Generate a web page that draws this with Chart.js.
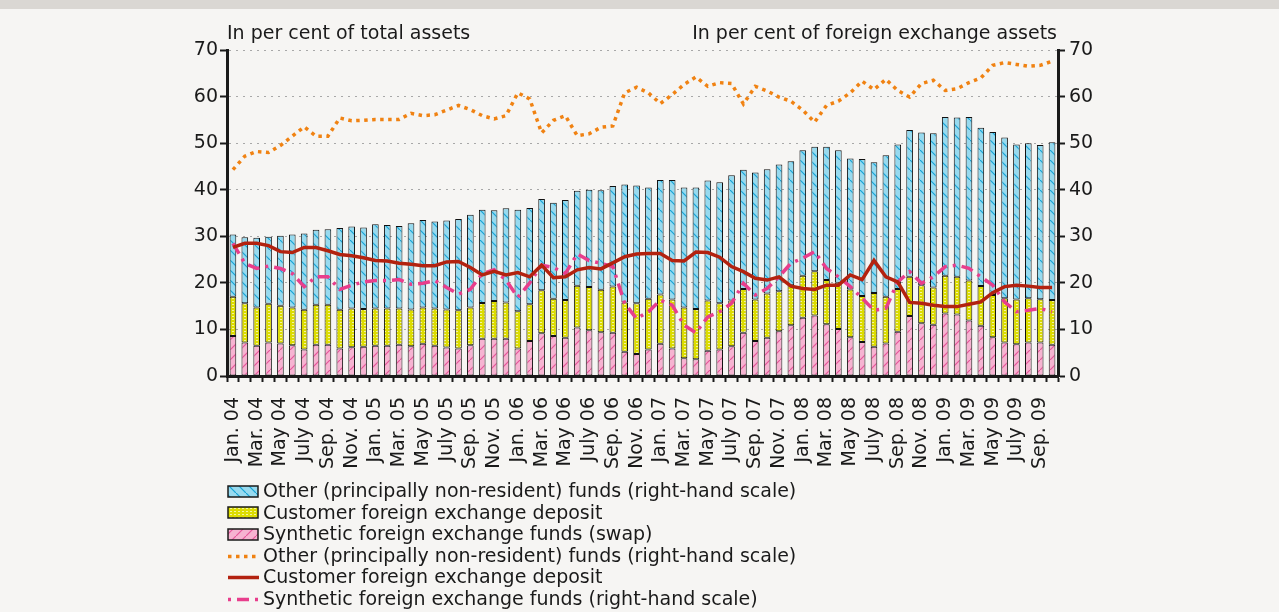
<!DOCTYPE html>
<html>
<head>
<meta charset="utf-8">
<script src="https://cdn.jsdelivr.net/npm/chart.js@4"></script>
<style>
  html, body { margin: 0; padding: 0; background: #f6f5f3; width: 1279px; height: 612px; overflow: hidden; }
  #topband { position: absolute; left: 0; top: 0; width: 1279px; height: 9px; background: #dad7d3; }
  #wrap { position: absolute; left: 0; top: 0; width: 1279px; height: 472px; }
  #legend { position: absolute; left: 226px; top: 480px; font-family: 'DejaVu Sans', sans-serif; font-size: 19px; color: #1a1a1a; }
  #legend div { height: 21.6px; line-height: 21.6px; white-space: nowrap; display: flex; align-items: center; }
  #legend canvas { margin-right: 3px; }
</style>
</head>
<body>
<div id="topband"></div>
<div id="wrap"><canvas id="chart"></canvas></div>
<div id="legend"></div>
<script>
// categories: monthly, Jan. 04 - Oct. 09
const monthNames = ['Jan.', 'Feb.', 'Mar.', 'Apr.', 'May', 'June', 'July', 'Aug.', 'Sep.', 'Oct.', 'Nov.', 'Dec.'];
const years = ['04', '05', '06', '07', '08', '09'];
const months = [];
years.forEach(y => monthNames.forEach(m => months.push(m + ' ' + y)));
months.length = 70;

// bars, in per cent of total assets (left scale)
const swapFunds = [8.6, 7.2, 6.5, 7.2, 7.0, 6.6, 5.7, 6.7, 6.7, 5.9,
    6.2, 6.3, 6.5, 6.5, 6.7, 6.4, 6.9, 6.5, 6.1, 5.9,
    6.6, 8.0, 8.0, 8.0, 5.9, 7.5, 9.2, 8.6, 8.2, 10.4,
    9.8, 9.4, 9.3, 5.2, 4.7, 5.7, 6.9, 5.9, 3.8, 3.6,
    5.4, 5.7, 6.4, 9.3, 7.5, 8.2, 9.6, 10.9, 12.5, 13.0,
    11.1, 10.1, 8.3, 7.3, 6.3, 7.0, 9.5, 12.9, 11.3, 11.0,
    13.4, 13.2, 11.9, 10.8, 8.3, 7.2, 6.8, 7.2, 7.2, 6.7];
const depositFunds = [8.4, 8.4, 8.2, 8.3, 8.1, 8.1, 8.5, 8.6, 8.6, 8.3,
    8.3, 8.1, 8.0, 8.0, 7.8, 7.9, 7.8, 8.0, 8.2, 8.2,
    8.1, 7.7, 8.1, 7.8, 8.0, 7.9, 9.2, 8.0, 8.1, 9.0,
    9.3, 9.1, 9.9, 10.6, 10.9, 10.9, 10.6, 10.5, 10.9, 10.8,
    10.8, 9.9, 9.8, 9.4, 8.9, 9.5, 8.6, 8.6, 9.0, 9.5,
    9.5, 9.9, 10.3, 9.9, 11.5, 10.0, 9.2, 8.4, 8.2, 8.0,
    8.1, 8.1, 8.6, 8.5, 9.1, 9.5, 9.6, 9.5, 9.3, 9.6];
const otherFunds = [13.4, 14.2, 15.0, 14.4, 15.0, 15.7, 16.4, 16.1, 16.2, 17.6,
    17.6, 17.5, 18.1, 17.9, 17.7, 18.5, 18.8, 18.7, 19.1, 19.6,
    19.9, 20.0, 19.5, 20.2, 21.8, 20.7, 19.6, 20.6, 21.5, 20.4,
    20.9, 21.4, 21.6, 25.3, 25.3, 23.9, 24.6, 25.7, 25.8, 26.1,
    25.8, 26.0, 26.9, 25.6, 27.3, 26.7, 27.2, 26.6, 27.0, 26.7,
    28.6, 28.5, 28.1, 29.4, 28.1, 30.4, 31.0, 31.5, 32.8, 33.1,
    34.1, 34.2, 35.1, 34.0, 35.0, 34.5, 33.3, 33.3, 33.1, 33.9];

// lines, in per cent of foreign exchange assets (right scale)
const otherShare = [44.3, 47.2, 48.2, 48.0, 49.5, 51.5, 53.5, 51.5, 51.5, 55.4,
    54.8, 54.9, 55.1, 55.1, 55.1, 56.4, 55.9, 56.1, 57.1, 58.1,
    57.2, 55.9, 55.2, 55.9, 60.8, 59.5, 52.2, 54.9, 55.9, 51.6,
    52.0, 53.4, 53.7, 60.8, 62.0, 60.8, 58.5, 60.4, 62.6, 64.2,
    62.2, 63.0, 62.8, 58.4, 62.2, 61.2, 59.9, 59.0, 57.1, 54.5,
    58.1, 59.0, 60.8, 63.3, 61.5, 63.7, 61.3, 59.9, 62.8, 63.5,
    61.3, 61.7, 63.0, 64.0, 66.7, 67.3, 66.9, 66.5, 66.7, 67.6];
const depositShare = [27.6, 28.5, 28.5, 28.0, 26.7, 26.5, 27.6, 27.6, 26.9, 26.1,
    25.8, 25.4, 24.8, 24.7, 24.2, 24.0, 23.7, 23.7, 24.5, 24.6,
    23.3, 21.7, 22.5, 21.7, 22.2, 21.3, 23.8, 21.1, 21.3, 22.8,
    23.3, 23.0, 24.3, 25.6, 26.2, 26.3, 26.3, 24.8, 24.7, 26.6,
    26.5, 25.5, 23.5, 22.4, 21.0, 20.6, 21.3, 19.3, 18.8, 18.6,
    19.5, 19.5, 21.7, 20.7, 24.8, 21.3, 20.2, 15.8, 15.6, 15.2,
    14.9, 14.9, 15.4, 15.9, 17.9, 19.2, 19.5, 19.3, 19.0, 19.0];
const swapShare = [28.5, 24.2, 23.1, 23.6, 23.1, 22.0, 19.2, 21.3, 21.3, 18.6,
    19.5, 20.2, 20.5, 20.5, 20.7, 19.7, 19.9, 20.5, 19.0, 17.6,
    18.6, 22.0, 22.8, 20.6, 16.9, 20.0, 23.8, 23.3, 22.0, 26.2,
    24.8, 24.2, 23.5, 15.6, 12.3, 13.8, 16.3, 15.2, 10.9, 9.3,
    12.7, 13.8, 15.6, 19.9, 17.4, 18.8, 21.3, 24.2, 25.3, 26.7,
    23.1, 21.3, 19.2, 16.7, 14.1, 14.5, 20.2, 22.4, 19.9, 21.3,
    23.5, 23.8, 23.1, 21.3, 19.5, 15.9, 13.8, 14.1, 14.5, 13.8];

const yTicks = [0, 10, 20, 30, 40, 50, 60, 70];

const FONT = "'DejaVu Sans', sans-serif";
const COL = {
    blue: '#97daef', blueHatch: '#16a3d6',
    yellow: '#dcdc00', yellowHatch: '#f4f4a0',
    pink: '#f6b3d1', pinkHatch: '#e6559a',
    orange: '#f08212', red: '#b3220f', magenta: '#e83e8c',
};

// hatch fills for the bars
function hatch(bg, fg, kind) {
    const c = document.createElement('canvas');
    const g = c.getContext('2d');
    if (kind === 'h') {
        c.width = 4; c.height = 3;
        g.fillStyle = bg; g.fillRect(0, 0, 4, 3);
        g.fillStyle = fg; g.fillRect(0, 1, 2, 1);
    } else {
        c.width = 10; c.height = 10;
        g.fillStyle = bg; g.fillRect(0, 0, 10, 10);
        g.strokeStyle = fg; g.lineWidth = 1.2;
        g.beginPath();
        if (kind === 'b') { g.moveTo(-1, -1); g.lineTo(11, 11); }
        else { g.moveTo(-1, 11); g.lineTo(11, -1); }
        g.stroke();
    }
    return document.createElement('canvas').getContext('2d').createPattern(c, 'repeat');
}
const blueFill = hatch(COL.blue, COL.blueHatch, 'b');
const yellowFill = hatch(COL.yellow, COL.yellowHatch, 'h');
const pinkFill = hatch(COL.pink, COL.pinkHatch, 'f');

const titles = {
    id: 'titles',
    afterDraw(chart) {
        const { ctx, chartArea } = chart;
        ctx.save();
        ctx.font = '19px ' + FONT;
        ctx.fillStyle = '#1a1a1a';
        ctx.textBaseline = 'alphabetic';
        ctx.textAlign = 'left';
        ctx.fillText('In per cent of total assets', chartArea.left, 39);
        ctx.textAlign = 'right';
        ctx.fillText('In per cent of foreign exchange assets', chartArea.right - 1, 39);
        ctx.restore();
    }
};

const barBase = { type: 'bar', yAxisID: 'y', borderColor: '#111', borderWidth: 1, borderSkipped: false,
    barPercentage: 0.56, categoryPercentage: 1, order: 2 };
const lineBase = { type: 'line', yAxisID: 'y2', pointRadius: 0, borderWidth: 3.5, tension: 0, fill: false,
    order: 1, borderCapStyle: 'butt' };

const yScale = (pos) => ({
    position: pos,
    min: 0, max: 70,
    stacked: pos === 'left',
    afterBuildTicks: s => { s.ticks = yTicks.map(v => ({ value: v })); },
    afterFit: s => { s.width = pos === 'left' ? 227 : 1279 - 1058; },
    ticks: { color: '#1a1a1a', font: { family: FONT, size: 19 }, padding: pos === 'left' ? 2 : 4 },
    grid: {
        display: true,
        drawOnChartArea: pos === 'left',
        color: '#a8a8a8', lineWidth: 1,
        tickColor: '#1a1a1a', tickLength: 7, tickWidth: 2,
    },
    border: { display: true, color: '#1a1a1a', width: 3, dash: [2, 5] },
});

new Chart(document.getElementById('chart'), {
    data: {
        labels: months,
        datasets: [
            { ...lineBase, label: 'Other (principally non-resident) funds (right-hand scale)', data: otherShare,
              borderColor: COL.orange, borderDash: [3.5, 4.5] },
            { ...lineBase, label: 'Customer foreign exchange deposit', data: depositShare, borderColor: COL.red },
            { ...lineBase, label: 'Synthetic foreign exchange funds (right-hand scale)', data: swapShare,
              borderColor: COL.magenta, borderDash: [12, 6, 3, 6] },
            { ...barBase, label: 'Synthetic foreign exchange funds (swap)', data: swapFunds, backgroundColor: pinkFill, stack: 's' },
            { ...barBase, label: 'Customer foreign exchange deposit', data: depositFunds, backgroundColor: yellowFill, stack: 's' },
            { ...barBase, label: 'Other (principally non-resident) funds (right-hand scale)', data: otherFunds, backgroundColor: blueFill, stack: 's' },
        ]
    },
    options: {
        responsive: true,
        maintainAspectRatio: false,
        animation: false,
        layout: { padding: { top: 50, left: 0, right: 0, bottom: 0 } },
        plugins: { legend: { display: false }, tooltip: { enabled: false } },
        scales: {
            x: {
                stacked: true,
                afterFit: s => { s.height = 472 - 376; },
                ticks: {
                    autoSkip: false, maxRotation: 90, minRotation: 90, padding: 15,
                    color: '#1a1a1a', font: { family: FONT, size: 19 },
                    callback: (v, i) => i % 2 === 0 ? months[i] : '',
                },
                grid: { drawOnChartArea: false, tickColor: '#1a1a1a', tickLength: 6, tickWidth: 2 },
                border: { color: '#1a1a1a', width: 3 },
            },
            y: yScale('left'),
            y2: yScale('right'),
        }
    },
    plugins: [titles]
});

// legend
const legendItems = [
    { text: 'Other (principally non-resident) funds (right-hand scale)', fill: blueFill },
    { text: 'Customer foreign exchange deposit', fill: yellowFill },
    { text: 'Synthetic foreign exchange funds (swap)', fill: pinkFill },
    { text: 'Other (principally non-resident) funds (right-hand scale)', line: COL.orange, dash: [3.5, 4.5] },
    { text: 'Customer foreign exchange deposit', line: COL.red, dash: [] },
    { text: 'Synthetic foreign exchange funds (right-hand scale)', line: COL.magenta, dash: [3, 6, 12, 6] },
];
const legendEl = document.getElementById('legend');
legendItems.forEach(item => {
    const row = document.createElement('div');
    const c = document.createElement('canvas');
    c.width = 34; c.height = 16;
    const g = c.getContext('2d');
    if (item.fill) {
        g.fillStyle = item.fill;
        g.fillRect(2, 3, 30, 11);
        g.strokeStyle = '#1a1a1a'; g.lineWidth = 1.5;
        g.strokeRect(2, 3, 30, 11);
    } else {
        g.strokeStyle = item.line; g.lineWidth = 3.5; g.setLineDash(item.dash);
        g.beginPath(); g.moveTo(2, 8.5); g.lineTo(33, 8.5); g.stroke();
    }
    row.appendChild(c);
    const span = document.createElement('span');
    span.textContent = item.text;
    row.appendChild(span);
    legendEl.appendChild(row);
});
</script>
</body>
</html>
